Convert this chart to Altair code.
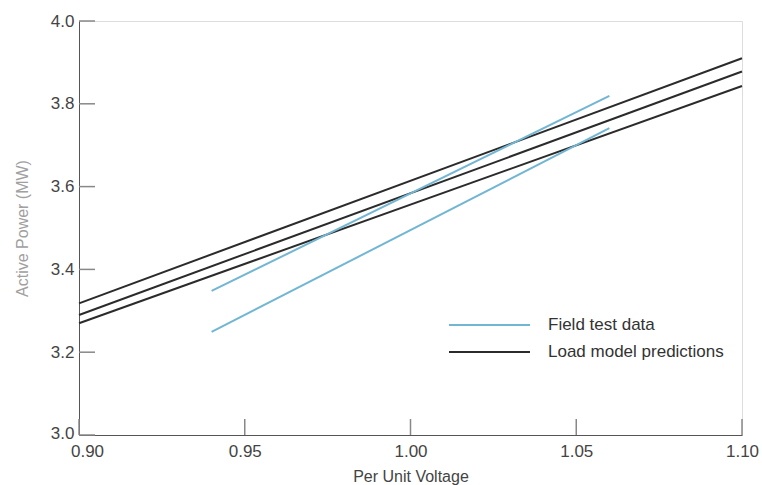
import altair as alt
import pandas as pd

# Load model predictions (three black lines), endpoints at V = 0.90 and 1.10
model_v = [0.90, 1.10]
model_a = [3.318, 3.910]
model_b = [3.290, 3.878]
model_c = [3.270, 3.843]

# Field test data (two blue lines), endpoints at V = 0.94 and 1.06
field_v = [0.94, 1.06]
field_upper = [3.348, 3.819]
field_lower = [3.249, 3.741]

x_ticks = [0.90, 0.95, 1.00, 1.05, 1.10]
y_ticks = [3.0, 3.2, 3.4, 3.6, 3.8, 4.0]

legend_labels = ["Field test data", "Load model predictions"]
legend_colors = ["#72b6d3", "#2b2b2b"]

rows = []
for name, vals in [("m1", model_a), ("m2", model_b), ("m3", model_c)]:
    for v, p in zip(model_v, vals):
        rows.append({"v": v, "p": p, "line": name, "kind": legend_labels[1]})
for name, vals in [("f1", field_upper), ("f2", field_lower)]:
    for v, p in zip(field_v, vals):
        rows.append({"v": v, "p": p, "line": name, "kind": legend_labels[0]})
df = pd.DataFrame(rows)

W, H = 663, 414
FONT = "Liberation Sans"
TXT = "#444444"

xscale = alt.Scale(domain=[0.90, 1.10], nice=False, zero=False)
yscale = alt.Scale(domain=[3.0, 4.0], nice=False, zero=False)

lines = alt.Chart(df).mark_line(strokeWidth=2).encode(
    x=alt.X("v:Q", scale=xscale,
            axis=alt.Axis(values=x_ticks, format=".2f", title="Per Unit Voltage",
                          ticks=False, grid=False, domainColor="#555555",
                          labelFlush=False,
                          labelOffset={"condition": {"test": "datum.value <= 0.9", "value": 8},
                                       "value": 0},
                          labelColor=TXT, labelFontSize=17, labelFont=FONT,
                          labelPadding=8, titleFont=FONT, titleFontSize=16,
                          titleFontWeight="normal", titleColor=TXT, titlePadding=9)),
    y=alt.Y("p:Q", scale=yscale,
            axis=alt.Axis(values=y_ticks, format=".1f", title="Active Power (MW)",
                          ticks=False, grid=False, domainColor="#555555",
                          labelOffset={"condition": {"test": "datum.value <= 3.0", "value": -2},
                                       "value": 0},
                          labelColor=TXT, labelFontSize=17, labelFont=FONT,
                          labelPadding=5, titleFont=FONT, titleFontSize=16,
                          titleFontWeight="normal", titleColor="#a0a0a0", titlePadding=20)),
    color=alt.Color("kind:N",
                    scale=alt.Scale(domain=legend_labels, range=legend_colors),
                    legend=None),
    detail="line:N",
)

xt = pd.DataFrame({"t": x_ticks})
yt = pd.DataFrame({"t": y_ticks})

xtick_marks = alt.Chart(xt).mark_rule(color="#888888", strokeWidth=1.5).encode(
    x=alt.X("t:Q", scale=xscale),
    y=alt.value(H),
    y2=alt.value(H - 16),
)
ytick_marks = alt.Chart(yt).mark_rule(color="#888888", strokeWidth=1.5).encode(
    y=alt.Y("t:Q", scale=yscale),
    x=alt.value(0),
    x2=alt.value(16),
)

# hand-drawn legend (layout only)
legend_layers = []
for i, (lab, col) in enumerate(zip(legend_labels, legend_colors)):
    ypix = 304 + 27 * i
    ld = pd.DataFrame({"label": [lab]})
    legend_layers.append(
        alt.Chart(ld).mark_rule(color=col, strokeWidth=2).encode(
            x=alt.value(370), x2=alt.value(451), y=alt.value(ypix)))
    legend_layers.append(
        alt.Chart(ld).mark_text(align="left", baseline="middle", font=FONT,
                                fontSize=17, color="#333333").encode(
            x=alt.value(469), y=alt.value(ypix), text="label:N"))

chart = alt.layer(xtick_marks, ytick_marks, lines, *legend_layers).properties(
    width=W, height=H,
    autosize=alt.AutoSizeParams(type="none"),
    padding={"left": 79, "top": 21, "right": 20, "bottom": 50},
).configure_view(stroke=None).configure(background="white")

chart.save("out.html", embed_options={"renderer": "svg", "actions": False})
